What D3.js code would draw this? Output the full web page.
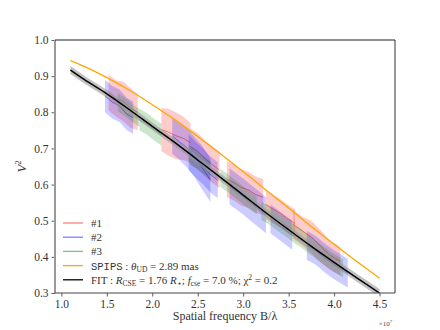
<!DOCTYPE html>
<html>
<head>
<meta charset="utf-8">
<script src="https://cdn.jsdelivr.net/npm/d3@7"></script>
<style>
  body { margin: 0; background: #fff; }
</style>
</head>
<body>
<div id="chart"></div>
<script>
var serif = "'Liberation Serif', 'DejaVu Serif', serif";

// ticks
var freqTicks = [1.0, 1.5, 2.0, 2.5, 3.0, 3.5, 4.0, 4.5];
var v2Ticks = [0.3, 0.4, 0.5, 0.6, 0.7, 0.8, 0.9, 1.0];

// models (spatial frequency in units of 1e7)
var modelFreq = [1.1, 1.25, 1.5, 1.75, 2.0, 2.25, 2.5, 2.75, 3.0, 3.25, 3.5, 3.75, 4.0, 4.25, 4.5];
var spipsV2 = [0.943, 0.927, 0.896, 0.861, 0.821, 0.779, 0.733, 0.685, 0.636, 0.585, 0.535, 0.484, 0.435, 0.387, 0.341];
var fitV2 = [0.917, 0.891, 0.851, 0.807, 0.761, 0.716, 0.668, 0.620, 0.571, 0.522, 0.475, 0.429, 0.385, 0.342, 0.300];
var fitErr = [0.011, 0.011, 0.011, 0.011, 0.011, 0.011, 0.011, 0.011, 0.011, 0.011, 0.011, 0.011, 0.011, 0.011, 0.011];

// observation #1
var obs1Freq = [[1.52, 1.60, 1.68, 1.76, 1.84], [2.10, 2.18, 2.26, 2.34, 2.42], [2.42, 2.50, 2.58, 2.66, 2.74],
                [2.82, 2.90, 2.98, 3.06, 3.14, 3.22], [3.25, 3.33, 3.41, 3.49, 3.57], [3.55, 3.65, 3.75, 3.85, 3.95, 4.07]];
var obs1V2 = [[0.855, 0.838, 0.830, 0.812, 0.800], [0.752, 0.745, 0.735, 0.728, 0.716], [0.705, 0.692, 0.672, 0.655, 0.640],
              [0.615, 0.605, 0.592, 0.585, 0.572, 0.565], [0.545, 0.532, 0.520, 0.505, 0.492], [0.490, 0.472, 0.455, 0.430, 0.405, 0.388]];
var obs1Err = [[0.05, 0.05, 0.055, 0.055, 0.05], [0.06, 0.065, 0.065, 0.06, 0.055], [0.05, 0.05, 0.05, 0.05, 0.05],
               [0.05, 0.05, 0.05, 0.05, 0.05, 0.05], [0.04, 0.04, 0.04, 0.04, 0.04], [0.04, 0.04, 0.045, 0.045, 0.04, 0.04]];

// observation #2
var obs2Freq = [[1.48, 1.56, 1.64, 1.72, 1.79], [2.22, 2.30, 2.38, 2.46, 2.54, 2.64], [2.40, 2.48, 2.56, 2.64, 2.72],
                [2.85, 2.93, 3.01, 3.09, 3.17, 3.25], [3.30, 3.38, 3.46, 3.54], [3.70, 3.80, 3.90, 4.00, 4.15]];
var obs2V2 = [[0.845, 0.828, 0.818, 0.795, 0.785], [0.735, 0.718, 0.702, 0.678, 0.650, 0.612], [0.690, 0.668, 0.650, 0.628, 0.612],
              [0.595, 0.580, 0.565, 0.548, 0.532, 0.515], [0.505, 0.490, 0.475, 0.460], [0.432, 0.418, 0.396, 0.378, 0.355]];
var obs2Err = [[0.045, 0.045, 0.045, 0.045, 0.045], [0.05, 0.05, 0.055, 0.055, 0.06, 0.06], [0.05, 0.05, 0.05, 0.05, 0.05],
               [0.05, 0.05, 0.05, 0.05, 0.05, 0.05], [0.04, 0.04, 0.04, 0.04], [0.04, 0.04, 0.04, 0.04, 0.04]];

// observation #3
var obs3Freq = [[1.62, 1.70, 1.78, 1.86], [1.86, 1.94, 2.02, 2.10], [2.40, 2.48, 2.56, 2.64],
                [2.75, 2.85, 2.95, 3.05, 3.15], [3.20, 3.30, 3.40, 3.50, 3.60], [3.60, 3.72, 3.84, 3.96, 4.10]];
var obs3V2 = [[0.828, 0.815, 0.798, 0.784], [0.780, 0.768, 0.752, 0.738], [0.686, 0.670, 0.655, 0.640],
              [0.619, 0.600, 0.580, 0.560, 0.542], [0.528, 0.512, 0.493, 0.476, 0.456], [0.458, 0.435, 0.412, 0.390, 0.368]];
var obs3Err = [[0.025, 0.025, 0.025, 0.025], [0.03, 0.03, 0.03, 0.03], [0.025, 0.025, 0.025, 0.025],
               [0.025, 0.025, 0.025, 0.025, 0.025], [0.025, 0.025, 0.025, 0.025, 0.025], [0.025, 0.025, 0.025, 0.025, 0.025]];

var svgWidth = 440, svgHeight = 330;
var margin = {top: 40, right: 45, bottom: 37, left: 55};
var width = svgWidth - margin.left - margin.right;
var height = svgHeight - margin.top - margin.bottom;

var svg = d3.select("#chart").append("svg")
  .attr("width", svgWidth)
  .attr("height", svgHeight)
  .style("font-family", serif);

var chart = svg.append("g")
  .attr("transform", `translate(${margin.left}, ${margin.top})`);

var xScale = d3.scaleLinear().domain([0.93, 4.67]).range([0, width]);
var yScale = d3.scaleLinear().domain([0.3, 1.0]).range([height, 0]);

svg.append("defs").append("clipPath").attr("id", "plotclip")
  .append("rect").attr("width", width).attr("height", height);

var plot = chart.append("g").attr("clip-path", "url(#plotclip)");

function toRows(f, v, e) {
  return f.map((d, i) => ({f: d, v: v[i], e: e[i]}));
}

var band = d3.area()
  .x(d => xScale(d.f))
  .y0(d => yScale(d.v - d.e))
  .y1(d => yScale(d.v + d.e));
var line = d3.line()
  .x(d => xScale(d.f))
  .y(d => yScale(d.v));

var observations = [
  {freq: obs1Freq, v2: obs1V2, err: obs1Err, color: "#ff0000"},
  {freq: obs2Freq, v2: obs2V2, err: obs2Err, color: "#0000ff"},
  {freq: obs3Freq, v2: obs3V2, err: obs3Err, color: "#008000"}
];

observations.forEach(function(obs) {
  obs.freq.forEach(function(f, k) {
    var rows = toRows(f, obs.v2[k], obs.err[k]);
    plot.append("path").attr("d", band(rows))
      .attr("fill", obs.color).attr("fill-opacity", 0.2);
    plot.append("path").attr("d", line(rows))
      .attr("fill", "none").attr("stroke", obs.color)
      .attr("stroke-opacity", 0.6).attr("stroke-width", 0.8);
  });
});

// SPIPS uniform disk
var smooth = d3.line().curve(d3.curveMonotoneX)
  .x(d => xScale(d.f)).y(d => yScale(d.v));
var spipsRows = modelFreq.map((f, i) => ({f: f, v: spipsV2[i]}));
plot.append("path").attr("d", smooth(spipsRows))
  .attr("fill", "none").attr("stroke", "orange").attr("stroke-width", 1.3);

// fit + uncertainty
var fitRows = toRows(modelFreq, fitV2, fitErr);
plot.append("path").attr("d", band.curve(d3.curveMonotoneX)(fitRows))
  .attr("fill", "#999").attr("fill-opacity", 0.6);
plot.append("path").attr("d", smooth(fitRows))
  .attr("fill", "none").attr("stroke", "black").attr("stroke-width", 1.5);

// axes
var xAxis = d3.axisBottom(xScale).tickValues(freqTicks).tickFormat(d3.format(".1f")).tickSize(3.5).tickPadding(3);
var yAxis = d3.axisLeft(yScale).tickValues(v2Ticks).tickFormat(d3.format(".1f")).tickSize(3.5).tickPadding(3);

var gx = chart.append("g").attr("transform", `translate(0, ${height})`).call(xAxis);
var gy = chart.append("g").call(yAxis);
[gx, gy].forEach(function(g) {
  g.attr("font-family", null).attr("font-size", null);
  g.select(".domain").remove();
  g.selectAll("text").style("font-family", serif).attr("font-size", 11.5).attr("fill", "#333");
  g.selectAll("line").attr("stroke", "#333").attr("stroke-width", 0.8);
});

// spines
chart.append("line").attr("x1", 0).attr("x2", 0).attr("y1", 0).attr("y2", height)
  .attr("stroke", "#999").attr("stroke-width", 2);
chart.append("line").attr("x1", width).attr("x2", width).attr("y1", 0).attr("y2", height)
  .attr("stroke", "#999").attr("stroke-width", 2);
chart.append("line").attr("x1", 0).attr("x2", width).attr("y1", 0).attr("y2", 0)
  .attr("stroke", "#222").attr("stroke-width", 1);
chart.append("line").attr("x1", 0).attr("x2", width).attr("y1", height).attr("y2", height)
  .attr("stroke", "#444").attr("stroke-width", 1);

// axis labels
chart.append("text")
  .attr("x", width / 2).attr("y", height + 27)
  .attr("text-anchor", "middle").attr("font-size", 12).attr("fill", "#333")
  .text("Spatial frequency B/λ");

var mult = chart.append("text")
  .attr("x", xScale(4.5) + 6).attr("y", height + 33)
  .attr("text-anchor", "middle").attr("font-size", 7).attr("fill", "#444");
mult.append("tspan").text("×10");
mult.append("tspan").attr("dy", -3).attr("font-size", 5).text("7");

var ylab = chart.append("text")
  .attr("transform", `translate(-29, ${height / 2}) rotate(-90)`)
  .attr("text-anchor", "middle").attr("font-size", 13).attr("fill", "#333");
ylab.append("tspan").attr("font-style", "italic").text("V");
ylab.append("tspan").attr("dy", -5).attr("font-size", 8).text("2");

// legend
var legend = chart.append("g").attr("transform", "translate(8, 183)");
var legendColors = ["#ff0000", "#0000ff", "#008000", "orange", "black"];
var legendOpacity = [0.5, 0.5, 0.5, 1, 1];
legendColors.forEach(function(c, i) {
  legend.append("line")
    .attr("x1", 0).attr("x2", 20).attr("y1", i * 14.2).attr("y2", i * 14.2)
    .attr("stroke", c).attr("stroke-opacity", legendOpacity[i]).attr("stroke-width", 1.3);
});

function legendText(i) {
  return legend.append("text").attr("x", 28).attr("y", i * 14.2 + 4)
    .attr("font-size", 11).attr("fill", "#333");
}
legendText(0).text("#1");
legendText(1).text("#2");
legendText(2).text("#3");

var t3 = legendText(3);
t3.append("tspan").style("font-family", "'Liberation Mono', 'DejaVu Sans Mono', monospace").attr("font-size", 10.5).text("SPIPS");
t3.append("tspan").text(" : ");
t3.append("tspan").attr("font-style", "italic").text("θ");
t3.append("tspan").attr("dy", 2.5).attr("font-size", 7.5).text("UD");
t3.append("tspan").attr("dy", -2.5).text(" = 2.89 mas");

var t4 = legendText(4);
t4.append("tspan").text("FIT : ");
t4.append("tspan").attr("font-style", "italic").text("R");
t4.append("tspan").attr("dy", 2.5).attr("font-size", 7.5).text("CSE");
t4.append("tspan").attr("dy", -2.5).text(" = 1.76 ");
t4.append("tspan").attr("font-style", "italic").text("R");
t4.append("tspan").attr("dy", 2.5).attr("font-size", 7.5).text("⋆");
t4.append("tspan").attr("dy", -2.5).text("; ");
t4.append("tspan").attr("font-style", "italic").text("f");
t4.append("tspan").attr("dy", 2.5).attr("font-size", 7.5).text("cse");
t4.append("tspan").attr("dy", -2.5).text(" = 7.0 %; χ");
t4.append("tspan").attr("dy", -4).attr("font-size", 7.5).text("2");
t4.append("tspan").attr("dy", 4).text(" = 0.2");
</script>
</body>
</html>
